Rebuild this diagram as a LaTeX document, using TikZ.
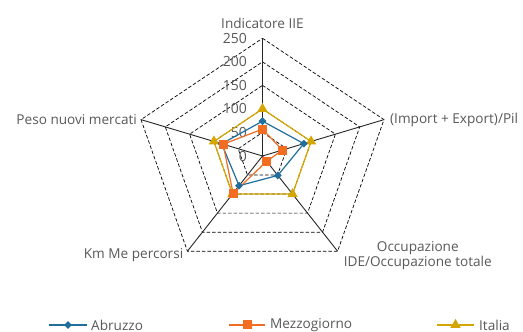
\documentclass[tikz,border=0pt]{standalone}
\usepackage{fontspec}
\setmainfont{Open Sans}
\usetikzlibrary{positioning,shapes.geometric}
\definecolor{abruzzo}{RGB}{31,110,156}
\definecolor{mezzo}{RGB}{242,108,34}
\definecolor{italia}{RGB}{213,165,0}
\definecolor{testo}{RGB}{89,89,89}

\begin{document}
\begin{tikzpicture}[
                    x = 1pt,
                    y = 1pt,
    every node/.style = {text=testo, inner sep=0pt, font=\fontsize{13.6}{15}\selectfont},
        scala/.style = {anchor=east, xshift=-15.5pt, font=\fontsize{14}{16}\selectfont},
         grid/.style = {draw=black, dash pattern=on 3.5pt off 2pt, line width=0.7pt},
         asse/.style = {draw=black!85, line width=0.9pt},
        serie/.style = {line width=1.2pt, line join=round},
     diamante/.style = {diamond, fill=abruzzo, minimum size=8pt},
      quadrato/.style = {rectangle, fill=mezzo, minimum size=9pt},
     triangolo/.style = {regular polygon, regular polygon sides=3, fill=italia, minimum size=12pt},
                   ]
\useasboundingbox[fill=white] (0,0) rectangle (523,332);
\coordinate (o) at (262.5,176);

\begin{scope}[shift={(o)}, x=0.511pt, y=0.4708pt]
% assi del radar
\foreach \ang [count=\i] in {90,18,-54,-126,162}
    \coordinate (a\i) at (\ang:250);
% griglia
\foreach \r in {50,100,...,250}
    \draw[grid] (90:\r) -- (18:\r) -- (-54:\r) -- (-126:\r) -- (162:\r) -- cycle;
\foreach \i in {1,...,5}
    \draw[asse] (o) -- (a\i);
% etichette della scala
\foreach \v in {0,50,...,250}
    \node[scala] (s\v) at (0,\v) {\v};
% dati
\foreach \ang/\v [count=\i] in {90/74,18/85,-54/51,-126/78,162/84}
    \coordinate (ab\i) at (\ang:\v);
\foreach \ang/\v [count=\i] in {90/57,18/41,-54/14,-126/98,162/81}
    \coordinate (me\i) at (\ang:\v);
\foreach \ang/\v [count=\i] in {90/100,18/100,-54/100,-126/100,162/100}
    \coordinate (it\i) at (\ang:\v);
\end{scope}

\draw[serie, italia] (it1) -- (it2) -- (it3) -- (it4) -- (it5) -- cycle;
\draw[serie, abruzzo] (ab1) -- (ab2) -- (ab3) -- (ab4) -- (ab5) -- cycle;
\draw[serie, mezzo] (me1) -- (me2) -- (me3) -- (me4) -- (me5) -- cycle;
\foreach \i in {1,...,5}{
    \node[triangolo] (mit\i) at (it\i) {};
    \node[diamante] (mab\i) at (ab\i) {};
    \node[quadrato] (mme\i) at (me\i) {};
}

% nomi degli assi
\node[above=9pt of a1] (n1) {Indicatore IIE};
\node[right=6pt of a2] (n2) {(Import + Export)/Pil};
\node[right=6pt of a3, yshift=-4pt, align=center] (n3) {Occupazione\\IDE/Occupazione totale};
\node[left=4pt of a4, yshift=-4pt] (n4) {Km Me percorsi};
\node[left=4pt of a5] (n5) {Peso nuovi mercati};

% legenda
\coordinate (lab1) at (49,7);  \coordinate (lab2) at (87,7);
\coordinate (lme1) at (229,7); \coordinate (lme2) at (265,7);
\coordinate (lit1) at (437,7); \coordinate (lit2) at (474,7);
\draw[serie, abruzzo] (lab1) -- (lab2);
\draw[serie, mezzo] (lme1) -- (lme2);
\draw[serie, italia] (lit1) -- (lit2);
\node[diamante] (kab) at (68,7) {};
\node[quadrato] (kme) at (247,7) {};
\node[triangolo] (kit) at (455.5,7) {};
\node[right=4pt of lab2] (tab) {Abruzzo};
\node[right=5pt of lme2] (tme) {Mezzogiorno};
\node[right=5pt of lit2] (tit) {Italia};
\end{tikzpicture}
\end{document}
